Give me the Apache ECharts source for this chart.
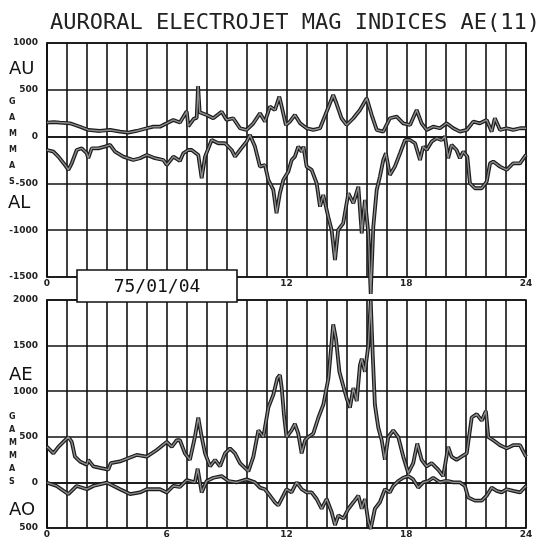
<!DOCTYPE html>
<html>
<head>
<meta charset="utf-8">
<script src="https://cdn.jsdelivr.net/npm/echarts@6/dist/echarts.min.js"></script>
<style>
	html, body { margin: 0; padding: 0; background: #fff; }
	#main { width: 549px; height: 539px; }
</style>
</head>
<body>
<div id="main"></div>
<script>
// hour of day, gammas
var AU = [[0,150],[0.35,155],[0.65,150],[1.15,142],[1.65,106],[2.07,71],[2.65,60],[3.16,71],[3.66,53],[4.07,42],[4.49,60],[5.0,89],[5.33,106],[5.66,106],[6.0,142],[6.33,178],[6.66,150],[7.0,270],[7.08,110],[7.35,190],[7.5,200],[7.57,540],[7.65,260],[8.0,231],[8.33,196],[8.75,266],[9.0,178],[9.33,196],[9.67,89],[10.0,71],[10.34,142],[10.67,249],[10.92,160],[11.17,320],[11.42,284],[11.64,427],[11.76,320],[11.97,124],[12.17,160],[12.42,231],[12.68,142],[13.01,89],[13.34,71],[13.68,89],[14.01,266],[14.34,445],[14.5,356],[14.76,196],[15.01,124],[15.35,196],[15.68,284],[16.02,409],[16.27,230],[16.52,71],[16.85,53],[17.18,196],[17.52,213],[17.85,142],[18.19,124],[18.52,284],[18.77,142],[19.02,71],[19.35,106],[19.69,89],[20.02,142],[20.36,89],[20.69,53],[21.03,71],[21.36,160],[21.69,142],[22.03,178],[22.28,53],[22.44,196],[22.7,71],[23.03,89],[23.36,71],[23.7,89],[24,89]];
var AL = [[0,-143],[0.32,-161],[0.57,-214],[0.9,-303],[1.07,-356],[1.24,-285],[1.49,-143],[1.74,-125],[1.99,-178],[2.07,-231],[2.24,-125],[2.57,-125],[2.9,-107],[3.16,-89],[3.41,-161],[3.82,-214],[4.32,-250],[4.66,-231],[5.0,-196],[5.41,-231],[5.83,-250],[6.0,-303],[6.33,-214],[6.66,-260],[6.83,-178],[7.08,-143],[7.25,-143],[7.58,-196],[7.75,-445],[7.92,-214],[8.25,-36],[8.58,-71],[8.92,-71],[9.25,-143],[9.42,-214],[9.67,-143],[10.0,-54],[10.17,18],[10.42,-107],[10.67,-321],[10.92,-303],[11.09,-463],[11.34,-570],[11.5,-819],[11.67,-605],[11.84,-463],[12.09,-374],[12.26,-250],[12.42,-214],[12.59,-107],[12.76,-161],[12.85,-107],[13.01,-321],[13.26,-356],[13.51,-498],[13.68,-748],[13.84,-623],[14.09,-855],[14.26,-997],[14.43,-1318],[14.59,-997],[14.84,-926],[15.1,-605],[15.35,-712],[15.6,-535],[15.77,-1033],[15.93,-677],[16.1,-1033],[16.22,-1680],[16.35,-962],[16.52,-570],[16.68,-427],[16.85,-250],[16.98,-178],[17.18,-410],[17.43,-321],[17.69,-178],[17.94,-36],[18.19,-36],[18.44,-71],[18.69,-250],[18.85,-107],[19.02,-143],[19.27,-54],[19.52,-18],[19.77,-36],[19.94,0],[20.1,-231],[20.27,-89],[20.52,-143],[20.69,-231],[20.86,-161],[21.06,-214],[21.19,-498],[21.44,-552],[21.78,-552],[22.03,-481],[22.2,-285],[22.36,-267],[22.7,-321],[23.03,-356],[23.36,-285],[23.7,-285],[24,-196]];
var AE = [[0,390],[0.32,319],[0.57,390],[0.82,444],[1.07,498],[1.24,444],[1.4,283],[1.65,230],[1.99,194],[2.07,247],[2.32,176],[2.66,159],[3.07,140],[3.2,212],[3.66,230],[4.07,265],[4.49,301],[5.0,283],[5.5,355],[6.0,444],[6.25,390],[6.5,462],[6.66,462],[6.91,319],[7.16,248],[7.41,498],[7.58,712],[7.75,498],[7.92,319],[8.17,176],[8.42,248],[8.67,176],[8.92,319],[9.17,373],[9.42,319],[9.67,212],[9.92,159],[10.09,122],[10.34,283],[10.59,570],[10.84,498],[11.09,820],[11.34,962],[11.54,1142],[11.67,1177],[11.76,1034],[11.87,748],[12.0,498],[12.25,570],[12.42,641],[12.59,534],[12.76,319],[12.93,462],[13.09,498],[13.34,534],[13.6,712],[13.85,855],[14.1,1142],[14.26,1535],[14.34,1732],[14.48,1571],[14.65,1213],[14.85,1052],[15.01,927],[15.18,820],[15.35,1034],[15.52,891],[15.68,1285],[15.77,1356],[15.93,1213],[16.1,1500],[16.22,1990],[16.32,1400],[16.43,850],[16.6,600],[16.77,462],[16.93,248],[17.1,498],[17.35,570],[17.6,498],[17.85,283],[18.1,104],[18.35,212],[18.55,426],[18.77,248],[19.02,176],[19.27,212],[19.6,140],[19.85,69],[20.1,390],[20.27,283],[20.52,248],[20.77,283],[21.03,319],[21.28,712],[21.53,748],[21.78,677],[21.99,784],[22.11,498],[22.36,462],[22.7,408],[23.03,373],[23.36,408],[23.7,408],[24,283]];
var AO = [[0,-3],[0.48,-39],[1.07,-128],[1.49,-39],[2.0,-75],[2.32,-39],[3.0,-3],[3.66,-75],[4.16,-128],[4.66,-110],[5.0,-75],[5.33,-75],[5.66,-75],[6.0,-110],[6.33,-39],[6.66,-50],[7.0,25],[7.41,0],[7.55,150],[7.75,-110],[8.0,15],[8.34,51],[8.75,69],[9.09,15],[9.5,0],[10.0,33],[10.42,0],[10.67,-57],[10.92,-75],[11.17,-146],[11.42,-218],[11.59,-253],[11.84,-146],[12.0,-75],[12.25,-110],[12.51,0],[12.76,-75],[13.01,-110],[13.26,-110],[13.51,-182],[13.76,-289],[14.01,-182],[14.26,-325],[14.43,-468],[14.6,-361],[14.85,-396],[15.1,-289],[15.35,-218],[15.6,-146],[15.77,-289],[15.93,-182],[16.1,-432],[16.22,-510],[16.43,-289],[16.68,-218],[16.93,-75],[17.18,-110],[17.35,-39],[17.6,15],[17.85,51],[18.1,69],[18.35,33],[18.6,-57],[18.85,0],[19.1,15],[19.35,51],[19.69,0],[19.94,15],[20.1,15],[20.36,0],[20.69,0],[20.94,-39],[21.1,-164],[21.44,-200],[21.78,-200],[22.03,-146],[22.28,-57],[22.53,-93],[22.78,-110],[23.03,-75],[23.36,-93],[23.7,-110],[24,-39]];

var hourLabels = ['0', '6', '12', '18', '24'];
var topTickLabels = ['-1500', '-1000', '-500', '0', '500', '1000'];
var bottomTickLabels = ['500', '0', '500', '1000', '1500', '2000'];
var dateText = '75/01/04';

var myChart = echarts.init(document.getElementById('main'));

var tickFont = { fontFamily: 'DejaVu Sans', fontWeight: 'bold', fontSize: 9, color: '#222' };

function xAxisFor(gi) {
	return {
		type: 'value', gridIndex: gi, min: 0, max: 24, interval: 1,
		axisLine: { show: true, lineStyle: { color: '#111', width: 1.6 } },
		axisTick: { show: false },
		splitLine: { show: true, lineStyle: { color: '#111', width: 1.6 } },
		axisLabel: Object.assign({
			margin: 2,
			formatter: function (v) { return v % 6 === 0 ? hourLabels[v / 6] : ''; }
		}, tickFont)
	};
}
function yAxisFor(gi, min, max, labels) {
	return {
		type: 'value', gridIndex: gi, min: min, max: max, interval: 500,
		axisLine: { show: true, lineStyle: { color: '#111', width: 1.6 } },
		axisTick: { show: false },
		splitLine: { show: true, lineStyle: { color: '#111', width: 1.6 } },
		axisLabel: Object.assign({
			margin: 9,
			formatter: function (v) { return labels[Math.round((v - min) / 500)]; }
		}, tickFont)
	};
}
// two layers: dark outline and a grey core, like the plotter band
function trace(data, gi) {
	var base = { type: 'line', xAxisIndex: gi, yAxisIndex: gi, data: data, symbol: 'none', clip: false, animation: false };
	return [
		Object.assign({}, base, { lineStyle: { color: '#1c1c1c', width: 3.8 }, z: 3 }),
		Object.assign({}, base, { lineStyle: { color: '#8c8c8c', width: 1.4 }, z: 4 })
	];
}

var sideFont = 'DejaVu Sans';
var option = {
	backgroundColor: '#fff',
	animation: false,
	title: {
		text: 'AURORAL ELECTROJET MAG INDICES AE(11)',
		left: 45, top: 7,
		textStyle: { fontFamily: 'DejaVu Sans Mono', fontWeight: 'normal', fontSize: 22, color: '#222' }
	},
	grid: [
		{ left: 47, right: 23, top: 43, height: 234, show: true, borderColor: '#111', borderWidth: 1.6 },
		{ left: 47, right: 23, top: 300, height: 233, show: true, borderColor: '#111', borderWidth: 1.6 }
	],
	xAxis: [xAxisFor(0), xAxisFor(1)],
	yAxis: [yAxisFor(0, -1500, 1000, topTickLabels), yAxisFor(1, -500, 2000, bottomTickLabels)],
	series: [].concat(trace(AU, 0), trace(AL, 0), trace(AE, 1), trace(AO, 1)),
	graphic: [
		{ type: 'text', left: 9, top: 60, style: { text: 'AU', font: '18px ' + sideFont, fill: '#111' } },
		{ type: 'text', left: 8, top: 194, style: { text: 'AL', font: '18px ' + sideFont, fill: '#111' } },
		{ type: 'text', left: 9, top: 94, style: { text: 'G\nA\nM\nM\nA\nS', font: 'bold 8px ' + sideFont, lineHeight: 16, fill: '#222' } },
		{ type: 'text', left: 9, top: 366, style: { text: 'AE', font: '18px ' + sideFont, fill: '#111' } },
		{ type: 'text', left: 9, top: 501, style: { text: 'AO', font: '18px ' + sideFont, fill: '#111' } },
		{ type: 'text', left: 9, top: 410, style: { text: 'G\nA\nM\nM\nA\nS', font: 'bold 8px ' + sideFont, lineHeight: 13, fill: '#222' } },
		// date box sits over the axis, on its own layer
		{ type: 'rect', zlevel: 2, z: 100, shape: { x: 77, y: 270, width: 160, height: 32 }, style: { fill: '#fff', stroke: '#111', lineWidth: 1.6 } },
		{ type: 'text', zlevel: 2, z: 101, x: 157, y: 287, style: { text: dateText, font: '18px DejaVu Sans Mono', fill: '#111', textAlign: 'center', textVerticalAlign: 'middle' } }
	]
};

myChart.setOption(option);
</script>
</body>
</html>
